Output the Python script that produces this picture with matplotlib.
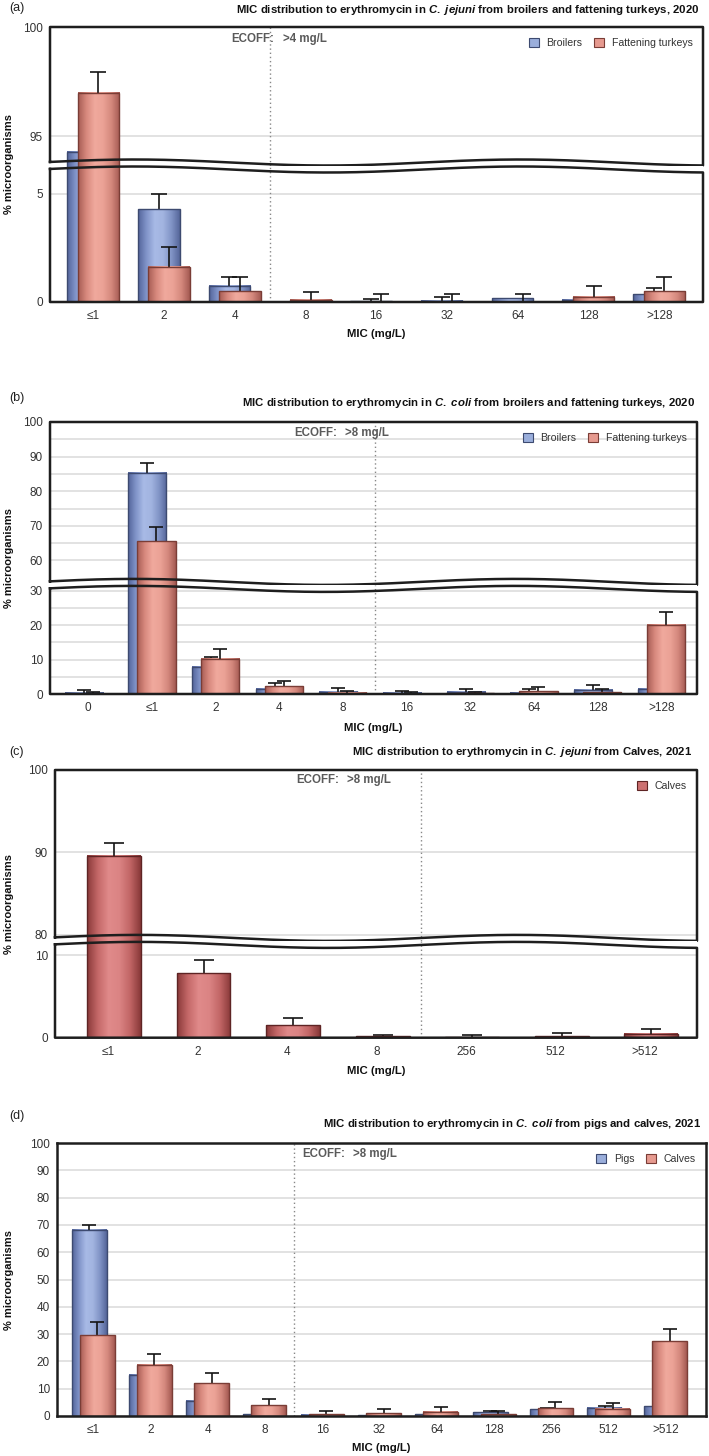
import numpy as np
import matplotlib
matplotlib.use('Agg')
import matplotlib.pyplot as plt
from matplotlib import font_manager
from matplotlib.colors import LinearSegmentedColormap
from matplotlib.patches import Patch

nan = np.nan

# (a) C. jejuni - broilers / fattening turkeys, 2020
a_mic = ['≤1', '2', '4', '8', '16', '32', '64', '128', '>128']
a_broilers = [94.3, 4.28, 0.76, 0.02, 0.03, 0.06, 0.17, 0.1, 0.35]
a_broilers_hi = [95.2, 5.0, 1.15, nan, 0.15, 0.24, nan, nan, 0.63]
a_turkeys = [97.0, 1.62, 0.49, 0.1, 0.02, 0.02, 0.01, 0.25, 0.5]
a_turkeys_hi = [97.95, 2.52, 1.15, 0.44, 0.35, 0.35, 0.35, 0.75, 1.15]

# (b) C. coli - broilers / fattening turkeys, 2020
b_mic = ['0', '≤1', '2', '4', '8', '16', '32', '64', '128', '>128']
b_broilers = [0.3, 85.2, 8.0, 1.6, 0.7, 0.3, 0.6, 0.3, 1.3, 1.6]
b_broilers_hi = [1.2, 88.2, 10.8, 3.1, 1.7, 1.0, 1.6, 1.4, 2.7, nan]
b_turkeys = [0.1, 65.5, 10.2, 2.2, 0.3, 0.1, 0.2, 0.8, 0.5, 20.1]
b_turkeys_hi = [0.6, 69.6, 13.1, 3.9, 1.0, 0.5, 0.6, 2.0, 1.5, 23.8]

# (c) C. jejuni - calves, 2021
c_mic = ['≤1', '2', '4', '8', '256', '512', '>512']
c_calves = [89.6, 7.8, 1.55, 0.15, 0.05, 0.2, 0.5]
c_calves_hi = [91.2, 9.35, 2.4, 0.36, 0.3, 0.6, 1.1]

# (d) C. coli - pigs / calves, 2021
d_mic = ['≤1', '2', '4', '8', '16', '32', '64', '128', '256', '512', '>512']
d_pigs = [68.2, 15.2, 5.5, 0.7, 0.4, 0.25, 0.6, 1.3, 2.4, 3.0, 3.5]
d_pigs_hi = [69.9, nan, nan, nan, nan, nan, nan, 1.7, 2.9, 3.7, nan]
d_calves = [29.5, 18.7, 12.0, 3.9, 0.6, 1.0, 1.5, 0.6, 2.9, 2.6, 27.3]
d_calves_hi = [34.3, 22.8, 15.6, 6.3, 1.8, 2.6, 3.3, 1.7, 5.0, 4.6, 31.7]

# fonts
names = {f.name for f in font_manager.fontManager.ttflist}
NARROW = 'Liberation Sans Narrow' if 'Liberation Sans Narrow' in names else 'Liberation Sans'
plt.rcParams['font.family'] = [NARROW, 'DejaVu Sans']
plt.rcParams['mathtext.fontset'] = 'custom'
plt.rcParams['mathtext.it'] = NARROW + ':italic:bold'
plt.rcParams['mathtext.rm'] = NARROW + ':bold'
plt.rcParams['mathtext.bf'] = NARROW + ':bold'

W, H = 709, 1456
FRAME = '#1e1e1e'
GRID = '#dadada'
TXT = '#333333'
AMP, GAP = 3.0, 7.0

blue_cm = LinearSegmentedColormap.from_list('b', ['#53649a', '#8194c9', '#a8bae6', '#a2b4e0', '#8194c6', '#55669a'])
salmon_cm = LinearSegmentedColormap.from_list('s', ['#a65c54', '#d8897e', '#f0a99d', '#eba296', '#d4887d', '#a45a52'])
calf_cm = LinearSegmentedColormap.from_list('c', ['#8a3939', '#c46868', '#e08a8a', '#db8484', '#c26666', '#883838'])
BLUE = ('#9aaedb', '#3d4a70', blue_cm)
SALMON = ('#e69a8f', '#7a3d36', salmon_cm)
CALF = ('#cc7070', '#5e2424', calf_cm)
GRAD = np.linspace(0, 1, 128).reshape(1, -1)

fig = plt.figure(figsize=(W / 100, H / 100), dpi=100)


def rect(x0, x1, y0, y1):
    return [x0 / W, 1 - y1 / H, (x1 - x0) / W, (y1 - y0) / H]


def fpos(x, y):
    return x / W, 1 - y / H


def style(ax, xlim, ylim, major, minor=()):
    ax.set_xlim(xlim)
    ax.set_ylim(ylim)
    ax.set_yticks(major)
    ax.set_yticks(minor, minor=True)
    ax.grid(True, axis='y', which='both', color=GRID, lw=1.1)
    ax.set_axisbelow(True)
    ax.tick_params(axis='both', which='both', length=0, labelsize=8.5, labelcolor=TXT)
    ax.tick_params(axis='y', pad=5)
    ax.tick_params(axis='x', pad=6)
    for s in ax.spines.values():
        s.set_visible(False)


def series(ax, x, vals, his, width, colors, z, capsize):
    mid, edge, cmap = colors
    lo, hi = ax.get_ylim()
    bars = ax.bar(x, vals, width, facecolor='none', edgecolor=edge, linewidth=1.0, zorder=z + 0.2)
    for b in bars:
        top = min(b.get_height(), hi)
        if top > lo:
            ax.imshow(GRAD, extent=(b.get_x(), b.get_x() + b.get_width(), lo, top), cmap=cmap,
                      aspect='auto', interpolation='bilinear', zorder=z)
    vals = np.array(vals)
    up = np.array(his) - vals
    eb = ax.errorbar(x, vals, yerr=[np.zeros(len(vals)), up], fmt='none', ecolor='#151515',
                     elinewidth=1.2, capsize=capsize, capthick=1.2, zorder=z + 0.1)
    for ln in eb[1]:
        if np.allclose(ln.get_ydata(), vals):
            ln.set_visible(False)
    ax.set_ylim(lo, hi)


def broken_frame(ax_t, ax_b, ht, hb):
    xs = np.linspace(0, 1, 400)
    w = AMP * np.cos(2 * np.pi * (xs - 0.72) / 0.59)
    y_up = (GAP / 2 + w) / ht
    y_lo = 1 + (w - GAP / 2) / hb
    ax_t.fill_between(xs, 0, y_up, transform=ax_t.transAxes, color='white', lw=0, zorder=0.9)
    ax_b.fill_between(xs, y_lo, 1, transform=ax_b.transAxes, color='white', lw=0, zorder=0.9)
    ax_t.plot(np.r_[xs, 1, 0, 0], np.r_[y_up, 1, 1, y_up[0]], transform=ax_t.transAxes,
              color=FRAME, lw=1.8, clip_on=False, zorder=6)
    ax_b.plot(np.r_[xs, 1, 0, 0], np.r_[y_lo, 0, 0, y_lo[0]], transform=ax_b.transAxes,
              color=FRAME, lw=1.8, clip_on=False, zorder=6)


def texts(label, ly, title, tx, ty, ecoff, ex, ey, vx, xlab_x, xlab_y, ylab_y):
    fig.text(*fpos(9, ly), label, ha='left', va='center', fontsize=9, color='#222222')
    fig.text(*fpos(tx, ty), title, ha='right', va='center', fontsize=8.2, fontweight='bold', color='#111111')
    fig.text(*fpos(ex, ey), 'ECOFF:', ha='left', va='center', fontsize=8.3, fontweight='bold', color='#5a5a5a')
    fig.text(*fpos(vx, ey), ecoff, ha='left', va='center', fontsize=8.3, fontweight='bold', color='#5a5a5a')
    fig.text(*fpos(xlab_x, xlab_y), 'MIC (mg/L)', ha='center', va='center', fontsize=8.2, fontweight='bold', color='#111111')
    fig.text(*fpos(9, ylab_y), '% microorganisms', ha='center', va='center', rotation=90,
             fontsize=8, fontweight='bold', color='#111111', family=['Liberation Sans', 'DejaVu Sans'])


def legend(ax, labels, colors):
    handles = [Patch(facecolor=c[0], edgecolor=c[1], lw=0.8) for c in colors]
    ax.legend(handles, labels, loc='upper right', ncol=len(labels), frameon=False, fontsize=7.6,
              handlelength=0.95, handleheight=0.95, handletextpad=0.7, columnspacing=1.1,
              borderpad=0.25, borderaxespad=0.75, labelcolor=TXT)


# ---------- (a)
ax_t = fig.add_axes(rect(50, 703, 27, 166))
ax_b = fig.add_axes(rect(50, 703, 166, 302))
xa = np.arange(len(a_mic))
style(ax_t, (-0.61, 8.62), (93.65, 100), [95, 100])
style(ax_b, (-0.61, 8.62), (0, 6.27), [0, 5])
for ax in (ax_t, ax_b):
    series(ax, xa - 0.074, a_broilers, a_broilers_hi, 0.59, BLUE, 1, 6)
    series(ax, xa + 0.074, a_turkeys, a_turkeys_hi, 0.59, SALMON, 2, 6)
    ax.axvline(2.5, color='#888888', ls=(0, (1, 2)), lw=1, zorder=1.5)
ax_t.set_xticks([])
ax_b.set_xticks(xa, a_mic)
broken_frame(ax_t, ax_b, 139, 136)
legend(ax_t, ['Broilers', 'Fattening turkeys'], [BLUE, SALMON])
texts('(a)', 8, r'MIC distribution to erythromycin in $\mathit{C.\ jejuni}$ from broilers and fattening turkeys, 2020',
      699, 10, '>4 mg/L', 231, 39, 283, 376, 334, 164.5)

# ---------- (b)
ax_t = fig.add_axes(rect(50, 697, 422, 585.4))
ax_b = fig.add_axes(rect(50, 697, 585.4, 694))
xb = np.arange(len(b_mic))
style(ax_t, (-0.6, 9.56), (52.8, 100), [60, 70, 80, 90, 100], [65, 75, 85, 95])
style(ax_b, (-0.6, 9.56), (0, 31.6), [0, 10, 20, 30], [5, 15, 25])
for ax in (ax_t, ax_b):
    series(ax, xb - 0.071, b_broilers, b_broilers_hi, 0.6, BLUE, 1, 5)
    series(ax, xb + 0.071, b_turkeys, b_turkeys_hi, 0.6, SALMON, 2, 5)
    ax.axvline(4.5, color='#888888', ls=(0, (1, 2)), lw=1, zorder=1.5)
ax_t.set_xticks([])
ax_b.set_xticks(xb, b_mic)
broken_frame(ax_t, ax_b, 163.4, 108.6)
legend(ax_t, ['Broilers', 'Fattening turkeys'], [BLUE, SALMON])
texts('(b)', 398, r'MIC distribution to erythromycin in $\mathit{C.\ coli}$ from broilers and fattening turkeys, 2020',
      695, 403, '>8 mg/L', 294, 433, 345, 373, 728, 558)

# ---------- (c)
ax_t = fig.add_axes(rect(55, 697, 770, 941.4))
ax_b = fig.add_axes(rect(55, 697, 941.4, 1037.7))
xc = np.arange(len(c_mic))
style(ax_t, (-0.59, 6.58), (79.2, 100), [80, 90, 100])
style(ax_b, (-0.59, 6.58), (0, 11.65), [0, 10])
for ax in (ax_t, ax_b):
    series(ax, xc + 0.07, c_calves, c_calves_hi, 0.6, CALF, 2, 7)
    ax.axvline(3.5, color='#888888', ls=(0, (1, 2)), lw=1, zorder=1.5)
ax_t.set_xticks([])
ax_b.set_xticks(xc, c_mic)
broken_frame(ax_t, ax_b, 171.4, 96.3)
legend(ax_t, ['Calves'], [CALF])
texts('(c)', 752, r'MIC distribution to erythromycin in $\mathit{C.\ jejuni}$ from Calves, 2021',
      692, 752, '>8 mg/L', 296, 780, 347, 376, 1071, 904)

# ---------- (d)
ax = fig.add_axes(rect(57, 706, 1143, 1416))
xd = np.arange(len(d_mic))
style(ax, (-0.63, 10.7), (0, 100), list(range(0, 101, 10)))
series(ax, xd - 0.07, d_pigs, d_pigs_hi, 0.61, BLUE, 1, 5)
series(ax, xd + 0.07, d_calves, d_calves_hi, 0.61, SALMON, 2, 5)
ax.axvline(3.5, color='#888888', ls=(0, (1, 2)), lw=1, zorder=1.5)
ax.set_xticks(xd, d_mic)
for s in ax.spines.values():
    s.set_visible(True)
    s.set_color(FRAME)
    s.set_linewidth(1.8)
    s.set_zorder(6)
legend(ax, ['Pigs', 'Calves'], [BLUE, SALMON])
texts('(d)', 1116, r'MIC distribution to erythromycin in $\mathit{C.\ coli}$ from pigs and calves, 2021',
      701, 1124, '>8 mg/L', 302, 1154, 353, 381, 1448, 1279.5)

fig.savefig('out.png', dpi=100, facecolor='white')
